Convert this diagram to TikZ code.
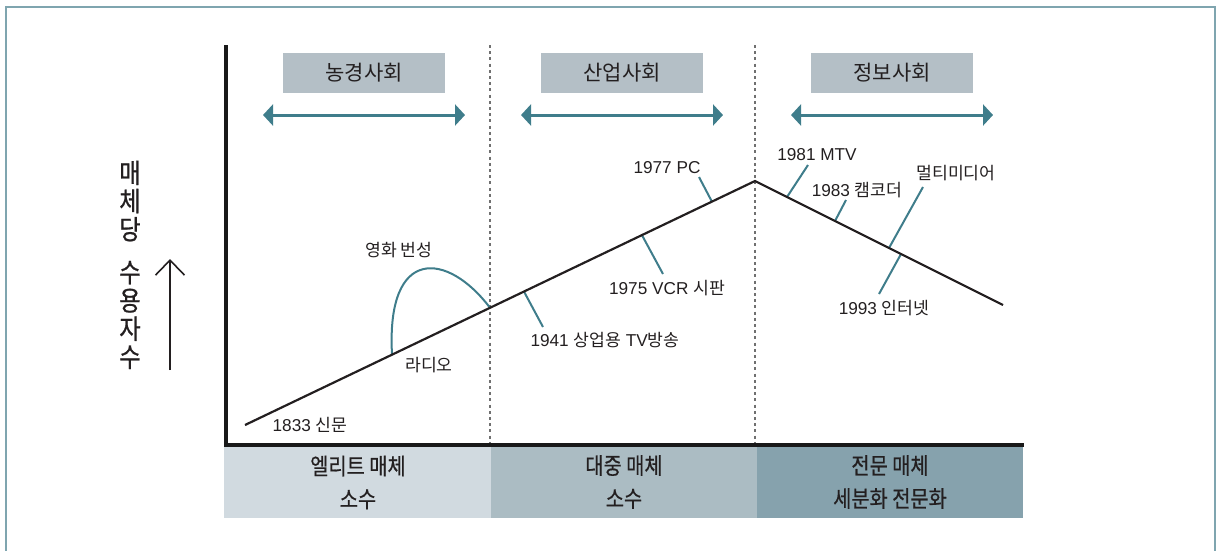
\documentclass[tikz,border=0pt]{standalone}
\usepackage{fontspec}
\setmainfont{Liberation Sans}
\newfontfamily\krfont{Noto Sans CJK KR}
\newfontfamily\krcond[FakeStretch=0.86,FakeBold=0.6]{Noto Sans CJK KR}
\newfontfamily\krylab[FakeStretch=0.86,FakeBold=0.8]{Noto Sans CJK KR}
\usetikzlibrary{arrows.meta}
\newcommand\K[1]{{\krfont #1}}
\definecolor{tealA}{HTML}{3F7D8B}
\definecolor{frameC}{HTML}{7FA5AF}
\definecolor{bannerC}{HTML}{B4BFC6}
\definecolor{barA}{HTML}{D1DAE0}
\definecolor{barB}{HTML}{ABBCC3}
\definecolor{barC}{HTML}{86A2AD}
\definecolor{txt}{HTML}{231F20}
\definecolor{dotC}{HTML}{707070}
\tikzset{
  lbl/.style={text=txt,font=\fontsize{17.2}{20}\selectfont,inner sep=0pt},
  banner/.style={fill=bannerC,minimum width=162pt,minimum height=40pt,inner sep=0pt,text=txt,font=\krfont\fontsize{21}{24}\selectfont},
  period/.style={draw=tealA,line width=3pt,{Triangle[length=10pt,width=21pt]}-{Triangle[length=10pt,width=21pt]}},
  bar/.style={minimum height=71pt,inner sep=0pt,text=txt,align=center,font=\krcond\fontsize{23}{33}\selectfont},
  tick/.style={draw=tealA,line width=2pt},
  divider/.style={draw=dotC,line width=2.4pt,dash pattern=on 3pt off 3.2pt},
  ylab/.style={text=txt,align=center,inner sep=0pt,font=\krylab\fontsize{27}{28.2}\selectfont}
}
\begin{document}
\begin{tikzpicture}[x=1pt,y=-1pt]
\useasboundingbox (0,0) rectangle (1217,550);
% frame
\draw[frameC,line width=1.5pt] (6,552) -- (6,7) -- (1215,7) -- (1215,552);
% bottom bars
\node[bar,fill=barA,minimum width=268pt] (barE) at (358,482.5) {엘리트 매체\\소수};
\node[bar,fill=barB,minimum width=266pt] (barM) at (624,482) {대중 매체\\소수};
\node[bar,fill=barC,minimum width=266pt] (barS) at (890,482) {전문 매체\\세분화 전문화};
% dividers
\coordinate (d1t) at (490,45); \coordinate (d1b) at (490,443);
\coordinate (d2t) at (755,45); \coordinate (d2b) at (755,443);
\draw[divider] (d1t) -- (d1b);
\draw[divider] (d2t) -- (d2b);
% axes
\coordinate (otop) at (226,45); \coordinate (orig) at (226,445); \coordinate (xend) at (1024,445);
\draw[black!90,line width=4pt] (otop) -- (orig) -- (xend);
% banners
\node[banner] (b1) at (364,73) {농경사회};
\node[banner] (b2) at (622,73) {산업사회};
\node[banner] (b3) at (892,73) {정보사회};
% period arrows
\coordinate (a1l) at (263,115); \coordinate (a1r) at (465,115);
\coordinate (a2l) at (521,115); \coordinate (a2r) at (723,115);
\coordinate (a3l) at (791,115); \coordinate (a3r) at (993,115);
\draw[period] (a1l) -- (a1r);
\draw[period] (a2l) -- (a2r);
\draw[period] (a3l) -- (a3r);
% y label
\node[ylab] (y1) at (130,201) {매\\체\\당};
\node[ylab] (y2) at (130,315) {수\\용\\자\\수};
\coordinate (yab) at (170,370); \coordinate (yat) at (170,259);
\draw[txt,line width=1.6pt,-{Straight Barb[length=15pt,width=29pt,line width=1.6pt]}] (yab) -- (yat);
% radio curve
\coordinate (rad) at (392,354.5);
\coordinate (meet) at (490,307.8);
\draw[tealA,line width=2pt] (rad) .. controls (386,245) and (448,252) .. (meet);
% ticks
\coordinate (t41) at (524,291.6); \coordinate (e41) at (543,327);
\coordinate (t75) at (642,235.2); \coordinate (e75) at (663,274);
\coordinate (t77) at (712,201.8); \coordinate (e77) at (699,177);
\coordinate (t81) at (787,197); \coordinate (e81) at (808,165);
\coordinate (t83) at (835,221); \coordinate (e83) at (846,200);
\coordinate (tmm) at (889,248); \coordinate (emm) at (923,187);
\coordinate (t93) at (901,254); \coordinate (e93) at (879,294);
\foreach \a/\b in {t41/e41,t75/e75,t77/e77,t81/e81,t83/e83,tmm/emm,t93/e93}
  \draw[tick] (\a) -- (\b);
% main line
\coordinate (start) at (245,425); \coordinate (peak) at (755,181); \coordinate (end) at (1003,305);
\draw[txt,line width=2.2pt,line join=miter] (start) -- (peak) -- (end);
% labels
\node[lbl] (l1833) at (310,425) {1833 \K{신문}};
\node[lbl] (lrad) at (429,365) {\K{라디오}};
\node[lbl] (lmov) at (399,250) {\K{영화 번성}};
\node[lbl] (l1941) at (605,340) {1941 \K{상업용} TV\K{방송}};
\node[lbl] (l1975) at (667,288) {1975 VCR \K{시판}};
\node[lbl] (l1977) at (667,168) {1977 PC};
\node[lbl] (l1981) at (817,155) {1981 MTV};
\node[lbl] (l1983) at (857,190) {1983 \K{캠코더}};
\node[lbl] (lmm) at (956,173) {\K{멀티미디어}};
\node[lbl] (l1993) at (884,308) {1993 \K{인터넷}};
\end{tikzpicture}
\end{document}
